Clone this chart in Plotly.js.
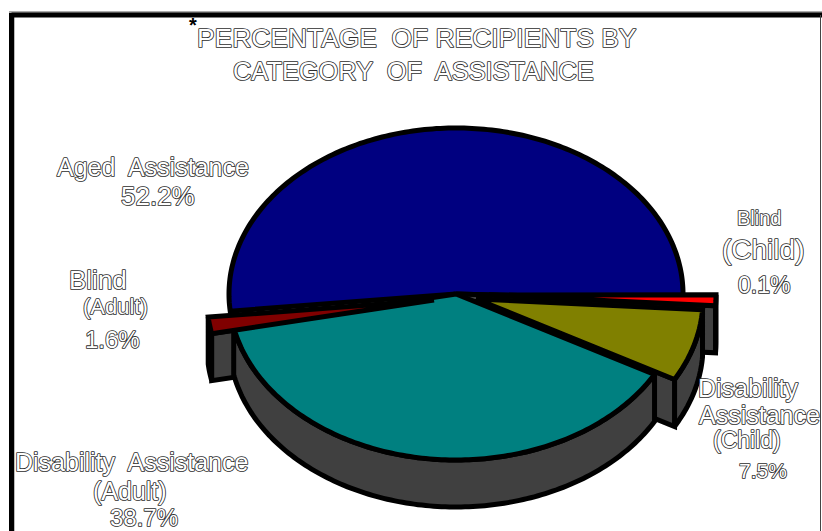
<!DOCTYPE html>
<html>
<head>
<meta charset="utf-8">
<script src="https://cdn.plot.ly/plotly-3.0.1.min.js"></script>
<style>html,body{margin:0;padding:0;background:#fff;overflow:hidden}#chart{width:822px;height:531px}</style>
</head>
<body>
<div id="chart"></div>
<script>
// ---- data ----
const categories = ["Aged Assistance", "Blind (Adult)", "Disability Assistance (Adult)", "Disability Assistance (Child)", "Blind (Child)"];
const shares = [52.2, 1.6, 38.7, 7.5, 0.1];
const sliceColors = ["#000080", "#800000", "#008080", "#808000", "#FF0000"];
const titleLines = ["PERCENTAGE  OF RECIPIENTS BY", "CATEGORY  OF  ASSISTANCE"];

// ---- drawing of the tilted, extruded pie ----
const W = 822, H = 531;
const cx = 456, cy = 294, rx = 227, ry = 166, depth = 47;
const startAngle = -2;
const minSweep = 3.8;               // hair-thin slices stay visible, as in the original
const wallColor = "#404040", edge = "#000000", edgeWidth = 5;
const explode = [[0, 0], [-22, 6], [0, 0], [20, 5], [33, 1]];

const sweeps = shares.map(s => s * 3.6);
const spans = [];
sweeps.reduce((a, s) => { spans.push([a, a + s]); return a + s; }, startAngle);
// a slice too thin to draw is widened about its middle; its neighbour gives way
const widen = (Math.max(sweeps[4], minSweep) - sweeps[4]) / 2;
spans[4] = [spans[4][0] - widen, spans[4][1] + widen];
spans[3] = [spans[3][0], spans[3][1] - widen];

function pt(deg, off, drop) {
  const t = deg * Math.PI / 180;
  return [cx + off[0] + rx * Math.cos(t), cy + off[1] - ry * Math.sin(t) + (drop || 0)];
}
function arc(a, b, off, drop) {
  const n = Math.max(2, Math.ceil(Math.abs(b - a)));
  const out = [];
  for (let i = 0; i <= n; i++) out.push(pt(a + (b - a) * i / n, off, drop));
  return out;
}
function face(points, color, name) {
  const p = points.concat([points[0]]);
  return {
    type: "scatter", mode: "lines", fill: "toself", fillcolor: color, name: name,
    x: p.map(q => q[0]), y: p.map(q => q[1]),
    line: {color: edge, width: edgeWidth, shape: "linear", simplify: false},
    hoverinfo: "skip"
  };
}
const apex = (off, drop) => [cx + off[0], cy + off[1] + (drop || 0)];
const topFace = i => face([apex(explode[i])].concat(arc(spans[i][0], spans[i][1], explode[i])), sliceColors[i], categories[i]);
const outerWall = (i, a, b, color) => face(arc(a, b, explode[i]).concat(arc(b, a, explode[i], depth)), color || wallColor, categories[i] + " wall");
const cutWall = (i, a) => face([apex(explode[i]), pt(a, explode[i]), pt(a, explode[i], depth), apex(explode[i], depth)], wallColor, categories[i] + " cut");

const traces = [
  topFace(0),
  cutWall(0, spans[0][0]),
  outerWall(4, spans[4][0], spans[4][1]),
  cutWall(4, spans[4][0]),
  topFace(4),
  outerWall(3, spans[3][0], spans[3][1]),
  cutWall(3, spans[3][0]),
  topFace(3),
  outerWall(1, spans[1][0], spans[1][1], "#808000"),
  cutWall(1, spans[1][1]),
  outerWall(2, spans[2][0], spans[2][1]),
  topFace(2),
  topFace(1)
];

// ---- text ----
const label = (text, x, y, size) => ({
  text: text, x: x, y: y, xref: "x", yref: "y", showarrow: false, xanchor: "center", yanchor: "middle",
  font: {family: "Liberation Sans, Arial, sans-serif", size: size, color: "#ffffff"}
});
const pct = i => shares[i].toFixed(1) + "%";
const annotations = [
  label(titleLines[0], 417, 38, 26.4),
  label(titleLines[1], 413, 71, 25.4),
  label("Aged  Assistance", 153, 167, 25),
  label(pct(0), 158, 196, 26),
  label("Blind", 98, 280, 26),
  label("(Adult)", 115, 306, 22),
  label(pct(1), 112, 339, 24),
  label("Disability  Assistance", 131, 462, 25),
  label("(Adult)", 130, 491, 25),
  label(pct(2), 144, 517, 24),
  label("Blind", 759, 218, 20),
  label("(Child)", 763, 249, 28),
  label(pct(4), 764, 285, 23),
  label("Disability", 748, 388, 25),
  label("Assistance", 759, 415, 25),
  label("(Child)", 747, 440, 23),
  label(pct(3), 763, 470, 21),
  {text: "<b>*</b>", x: 193, y: 25, xref: "x", yref: "y", showarrow: false, xanchor: "center", yanchor: "middle",
   font: {family: "Liberation Sans, Arial, sans-serif", size: 20, color: "#000000"}}
];

const frame = (x0, y0, x1, y1, color, width) => ({type: "line", xref: "x", yref: "y", x0, y0, x1, y1, line: {color, width}, layer: "below"});
const shapes = [
  frame(9, 12, 822, 12, "#aaaaaa", 2),
  frame(14.5, 17, 14.5, 531, "#bbbbbb", 1),
  frame(11.5, 15, 822, 15, "#000000", 5),
  frame(11.5, 13, 11.5, 531, "#000000", 5),
  frame(820.5, 15, 820.5, 531, "#444444", 1)
];

Plotly.newPlot("chart", traces, {
  width: W, height: H,
  margin: {l: 0, r: 0, t: 0, b: 0, pad: 0},
  paper_bgcolor: "#ffffff", plot_bgcolor: "#ffffff",
  showlegend: false, hovermode: false,
  xaxis: {range: [0, W], visible: false, fixedrange: true},
  yaxis: {range: [H, 0], visible: false, fixedrange: true},
  annotations: annotations, shapes: shapes
}, {displayModeBar: false, staticPlot: true}).then(() => {
  // hollow lettering: white fill with a fine dark outline, no colour fringes
  document.querySelectorAll("#chart .annotation-text").forEach(t => {
    if (t.textContent !== "*") {
      t.style.stroke = "#2a2a2a";
      t.style.strokeWidth = "1.7px";
      t.style.paintOrder = "stroke";
      t.style.strokeLinejoin = "round";
      t.style.opacity = "0.99";
    }
  });
});
</script>
</body>
</html>
